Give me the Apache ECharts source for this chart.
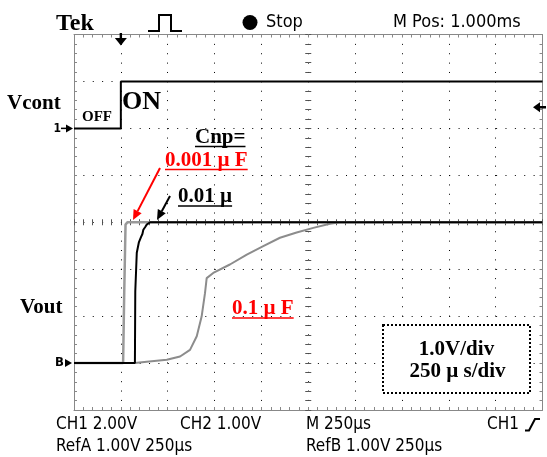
<!DOCTYPE html>
<html><head><meta charset="utf-8">
<script src="https://cdn.jsdelivr.net/npm/echarts@6/dist/echarts.min.js"></script>
<style>html,body{margin:0;padding:0;background:#fff}#c{width:547px;height:457px}</style>
</head><body><div id="c"></div>
<script>
// ---- data (time in µs, 250 µs/div; voltages in V) ----
const TIME_MIN_US = 0, TIME_MAX_US = 2500, TIME_DIV_US = 250;
const VOUT_MIN = -1, VOUT_MAX = 7, VOUT_DIV = 1;      // Ref traces, 1.00 V/div
const VCONT_MIN = -12, VCONT_MAX = 4, VCONT_DIV = 2;  // CH1 2.00 V/div
const TRIGGER_TIME_US = 250;
const TRIGGER_LEVEL_V = 0.9;

const vcont = [[0,0],[250,0],[250,2],[2500,2]];
const vout_0001uF = [[0,0],[262,0],[268,1.5],[275,2.95],[285,3],[2500,3]];
const vout_001uF = [[0,0],[325,0],[327,1.53],[333,1.55],[335,2.35],[343,2.38],[346,2.57],[352,2.6],[358,2.69],[365,2.75],[370,2.84],[380,2.9],[388,2.95],[406,3],[2500,3]];
const vout_01uF = [[0,0],[325,0],[388,0.03],[495,0.07],[566,0.14],[619,0.28],[655,0.57],[681,0.99],[699,1.49],[708,1.81],[743,1.92],[832,2.1],[922,2.31],[1010,2.49],[1099,2.67],[1188,2.78],[1277,2.88],[1366,2.97],[1420,3],[2500,3]];

const headerTexts = {brand:'Tek', state:'Stop', pos:'M Pos: 1.000ms'};
const footerRow1 = ['CH1 2.00V', 'CH2 1.00V', 'M 250µs', 'CH1'];
const footerRow2 = ['RefA 1.00V 250µs', 'RefB 1.00V 250µs'];
const scaleTexts = ['1.0V/div', '250 µ s/div'];

// ---- chart ----
const SERIF = '"Liberation Serif","Times New Roman",serif';
const SCOPE = '"DejaVu Sans Condensed","DejaVu Sans",sans-serif';
const GRID = {left:74, right:4.5, top:34.5, bottom:47};
const FRAME = '#888';
const DOT = '#000';

function edgeAxis(extra){
  return Object.assign({
    type:'value', gridIndex:0,
    axisLine:{show:true, onZero:false, lineStyle:{color:FRAME, width:1}},
    axisTick:{show:true, inside:true, length:3, lineStyle:{color:FRAME}},
    minorTick:{show:true, splitNumber:5, length:3, lineStyle:{color:FRAME}},
    axisLabel:{show:false},
    splitLine:{show:false}
  }, extra);
}
function centerAxis(extra){
  return Object.assign({
    type:'value', gridIndex:1,
    axisLine:{show:false, onZero:true},
    axisTick:{show:true, inside:true, length:3, lineStyle:{color:'#555'}},
    minorTick:{show:true, splitNumber:5, length:3, lineStyle:{color:'#555'}},
    axisLabel:{show:false}, splitLine:{show:false}
  }, extra);
}
const option = {
  animation:false,
  backgroundColor:'#fff',
  grid:[Object.assign({}, GRID), Object.assign({}, GRID)],
  xAxis:[
    edgeAxis({min:TIME_MIN_US, max:TIME_MAX_US, interval:TIME_DIV_US, position:'bottom',
      splitLine:{show:true, lineStyle:{color:DOT, width:1, type:[1, 8.37]}}}),
    edgeAxis({min:TIME_MIN_US, max:TIME_MAX_US, interval:TIME_DIV_US, position:'top'}),
    centerAxis({min:-1250, max:1250, interval:250, position:'bottom'}),
    centerAxis({min:-1250, max:1250, interval:250, position:'top'})
  ],
  yAxis:[
    edgeAxis({min:VOUT_MIN, max:VOUT_MAX, interval:VOUT_DIV, position:'left',
      splitLine:{show:true, lineStyle:{color:DOT, width:1, type:[1, 8.38]}}}),
    edgeAxis({min:VCONT_MIN, max:VCONT_MAX, interval:VCONT_DIV, position:'right'}),
    centerAxis({min:-4, max:4, interval:1, position:'left'}),
    centerAxis({min:-4, max:4, interval:1, position:'right'})
  ],
  series:[
    {name:'Vcont', type:'line', xAxisIndex:0, yAxisIndex:1, data:vcont, symbol:'none', silent:true,
      lineStyle:{color:'#000', width:2}, z:5},
    {name:'0.1uF', type:'line', xAxisIndex:0, yAxisIndex:0, data:vout_01uF, symbol:'none', silent:true,
      lineStyle:{color:'#8c8c8c', width:2}, z:3},
    {name:'0.001uF', type:'line', xAxisIndex:0, yAxisIndex:0, data:vout_0001uF, symbol:'none', silent:true,
      lineStyle:{color:'#999', width:2.5}, z:3},
    {name:'0.01uF', type:'line', xAxisIndex:0, yAxisIndex:0, data:vout_001uF, symbol:'none', silent:true,
      lineStyle:{color:'#000', width:2}, z:4}
  ]
};
const chart = echarts.init(document.getElementById('c'), null, {renderer:'canvas'});
chart.setOption(option);

// ---- annotations ----
const mctx = document.createElement('canvas').getContext('2d');
function measure(t, font){ mctx.font = font; return mctx.measureText(t).width; }
function txt(t, x, y, font, fill, align){
  return {type:'text', z:100, style:{text:t, x:x, y:y, font:font, fill:fill||'#000',
    align:align||'left', textAlign:align||'left', verticalAlign:'middle', textVerticalAlign:'middle'}};
}
function uline(t, x, y, font, fill, off){
  const w = measure(t, font);
  return [txt(t, x, y, font, fill),
    {type:'line', z:100, shape:{x1:x, y1:y+off, x2:x+w, y2:y+off}, style:{stroke:fill, lineWidth:1.6}}];
}
function arrow(x1, y1, x2, y2, color){
  const a = Math.atan2(y2-y1, x2-x1), L = 10, H = 4.5;
  const bx = x2 - L*Math.cos(a), by = y2 - L*Math.sin(a);
  return [
    {type:'line', z:100, shape:{x1:x1, y1:y1, x2:bx, y2:by}, style:{stroke:color, lineWidth:2}},
    {type:'polygon', z:100, shape:{points:[[x2,y2],[bx - H*Math.sin(a), by + H*Math.cos(a)],[bx + H*Math.sin(a), by - H*Math.cos(a)]]}, style:{fill:color}}
  ];
}
const B21 = 'bold 21px ' + SERIF;
const H18 = '18px ' + SCOPE;
const F17 = '17px ' + SCOPE;
const g = [];
// header
g.push(txt(headerTexts.brand, 56, 24, 'bold 24px ' + SERIF));
g.push({type:'polyline', z:100, shape:{points:[[148,31],[159,31],[159,15],[171,15],[171,31],[182,31]]}, style:{stroke:'#000', lineWidth:2, fill:null}});
g.push({type:'circle', z:100, shape:{cx:250, cy:22.5, r:7.5}, style:{fill:'#000'}});
g.push(txt(headerTexts.state, 266, 22.5, H18));
g.push(txt(headerTexts.pos, 393, 22.5, H18));
// footer
g.push(txt(footerRow1[0], 56, 424.5, F17));
g.push(txt(footerRow1[1], 180, 424.5, F17));
g.push(txt(footerRow1[2], 306, 424.5, F17));
g.push(txt(footerRow1[3], 487, 424.5, F17));
g.push({type:'polyline', z:100, shape:{points:[[525,430.5],[529,430.5],[535,419],[540,419]]}, style:{stroke:'#000', lineWidth:2, fill:null}});
g.push(txt(footerRow2[0], 56, 446.5, F17));
g.push(txt(footerRow2[1], 306, 446.5, F17));
// labels
g.push(txt('Vcont', 7, 104, B21));
g.push(txt('OFF', 82, 117, 'bold 15px ' + SERIF));
g.push(txt('ON', 122, 102.5, 'bold 26px ' + SERIF));
g.push(txt('Vout', 20, 308, B21));
g.push(...uline('Cnp=', 195, 137.5, B21, '#000', 9));
g.push(...uline('0.001 µ F', 165, 160.5, B21, '#ff0000', 9));
g.push(...uline('0.01 µ', 178, 197, B21, '#000', 9));
g.push(...uline('0.1 µ F', 232, 309, B21, '#ff0000', 9));
g.push(...arrow(160, 168, 133, 220, '#ff0000'));
g.push(...arrow(170, 196, 157, 220, '#000'));
// scale box
g.push({type:'rect', z:99, shape:{x:383, y:325, width:147, height:68}, style:{fill:'#fff', stroke:'#000', lineWidth:2, lineDash:[2,2]}});
g.push(txt(scaleTexts[0], 456.5, 350, B21, '#000', 'center'));
g.push(txt(scaleTexts[1], 457.5, 372, B21, '#000', 'center'));
// markers computed through the axes
const trig = chart.convertToPixel({xAxisIndex:0, yAxisIndex:1}, [TRIGGER_TIME_US, TRIGGER_LEVEL_V]);
const ch1Zero = chart.convertToPixel({xAxisIndex:0, yAxisIndex:1}, [TIME_MIN_US, 0]);
const refZero = chart.convertToPixel({xAxisIndex:0, yAxisIndex:0}, [TIME_MIN_US, 0]);
const tx = trig[0];
g.push({type:'polygon', z:101, shape:{points:[[tx-6,38],[tx+6,38],[tx,45.5]]}, style:{fill:'#000'}});
g.push({type:'rect', z:101, shape:{x:tx-1.2, y:33, width:2.4, height:6}, style:{fill:'#000'}});
const ty = trig[1];
g.push({type:'polygon', z:101, shape:{points:[[533,ty],[540,ty-5],[540,ty+5]]}, style:{fill:'#000'}});
g.push({type:'line', z:101, shape:{x1:539, y1:ty, x2:546, y2:ty}, style:{stroke:'#000', lineWidth:2.5}});
const y1 = ch1Zero[1];
g.push(txt('1', 61, y1, 'bold 12px ' + SCOPE, '#000', 'right'));
g.push({type:'line', z:101, shape:{x1:61, y1:y1, x2:67, y2:y1}, style:{stroke:'#000', lineWidth:1.5}});
g.push({type:'polygon', z:101, shape:{points:[[66,y1-4],[73,y1],[66,y1+4]]}, style:{fill:'#000'}});
const yb = refZero[1];
g.push(txt('B', 55, yb, 'bold 13px ' + SCOPE));
g.push({type:'polygon', z:101, shape:{points:[[65,yb-4],[72,yb],[65,yb+4]]}, style:{fill:'#000'}});
chart.setOption({graphic:{elements:g}});
</script></body></html>
